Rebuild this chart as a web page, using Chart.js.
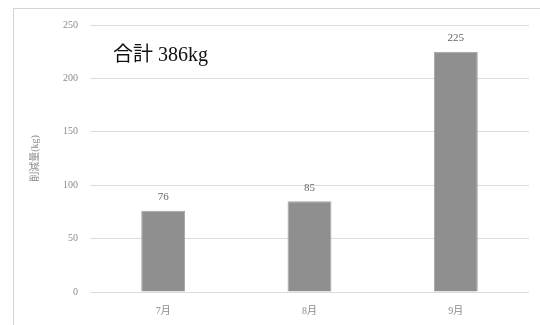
<!DOCTYPE html>
<html>
<head>
<meta charset="utf-8">
<script src="https://cdn.jsdelivr.net/npm/chart.js@4"></script>
<style>
  html, body { margin: 0; padding: 0; background: #fff; }
  #wrap { position: relative; width: 540px; height: 325px; overflow: hidden; }
  #frame { position: absolute; left: 13px; top: 8px; width: 600px; height: 400px; border: 1px solid #d4d4d4; box-sizing: border-box; }
  canvas { position: absolute; left: 0; top: 0; }
</style>
</head>
<body>
<div id="wrap">
  <div id="frame"></div>
  <canvas id="chart" width="540" height="325"></canvas>
</div>
<script>
const months = ['7月', '8月', '9月'];
const amounts = [76, 85, 225];
const yTicks = [0, 50, 100, 150, 200, 250];
const totalLabel = '合計 386kg';
const yTitle = '削減量(kg)';

const serif = '"Liberation Serif", "DejaVu Serif", "Noto Sans CJK JP", serif';

// value labels above bars + total note
const labelPlugin = {
  id: 'labels',
  afterDatasetsDraw(chart) {
    const ctx = chart.ctx;
    const meta = chart.getDatasetMeta(0);
    ctx.save();
    ctx.fillStyle = '#666';
    ctx.font = '11px ' + serif;
    ctx.textAlign = 'center';
    ctx.textBaseline = 'bottom';
    meta.data.forEach((bar, i) => {
      ctx.fillText(String(amounts[i]), bar.x, bar.y - 8);
    });
    ctx.fillStyle = '#111';
    ctx.font = '20px ' + serif;
    ctx.textAlign = 'left';
    ctx.textBaseline = 'middle';
    ctx.fillText(totalLabel, 113, 56);
    ctx.restore();
  }
};

new Chart(document.getElementById('chart'), {
  type: 'bar',
  data: {
    labels: months,
    datasets: [{
      data: amounts,
      backgroundColor: '#8f8f8f',
      borderColor: '#a3a3a3',
      borderWidth: 1,
      barPercentage: 0.3,
      categoryPercentage: 1
    }]
  },
  options: {
    responsive: false,
    animation: false,
    layout: { padding: { left: 29, right: 11, top: 25, bottom: 0 } },
    plugins: { legend: { display: false }, tooltip: { enabled: false } },
    scales: {
      x: {
        grid: { display: false },
        border: { display: false },
        ticks: { color: '#8a8a8a', font: { size: 10, family: serif }, padding: 5 },
        afterFit(scale) { scale.height = 33; }
      },
      y: {
        min: 0,
        max: 250,
        afterBuildTicks(scale) { scale.ticks = yTicks.map(v => ({ value: v })); },
        grid: { color: '#dcdcdc', lineWidth: 1, drawTicks: false },
        border: { display: false },
        ticks: { color: '#8a8a8a', font: { size: 10, family: serif }, padding: 12 },
        title: { display: true, text: yTitle, color: '#8a8a8a', font: { size: 10, family: serif }, padding: { top: 0, bottom: 4 } },
        afterFit(scale) { scale.width = 61; }
      }
    }
  },
  plugins: [labelPlugin]
});
</script>
</body>
</html>
